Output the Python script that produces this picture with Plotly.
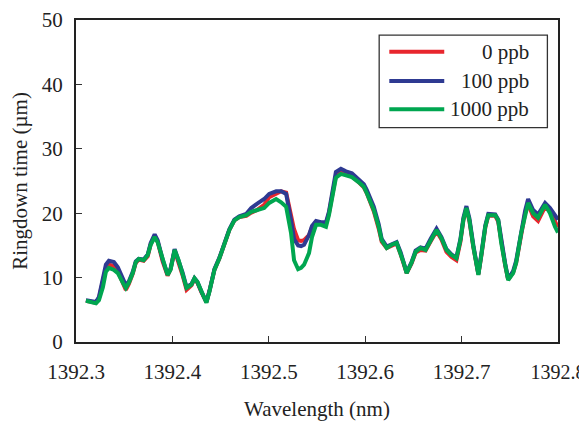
import plotly.graph_objects as go

wavelength = [1392.3103, 1392.3155, 1392.3207, 1392.3238, 1392.3279, 1392.3310, 1392.3341, 1392.3393,
              1392.3434, 1392.3486, 1392.3517, 1392.3548, 1392.3589, 1392.3620, 1392.3651, 1392.3702,
              1392.3744, 1392.3775, 1392.3816, 1392.3847, 1392.3899, 1392.3950, 1392.3981, 1392.4023,
              1392.4064, 1392.4105, 1392.4147, 1392.4198, 1392.4229, 1392.4260, 1392.4302, 1392.4353,
              1392.4384, 1392.4436, 1392.4488, 1392.4539, 1392.4591, 1392.4643, 1392.4694, 1392.4767,
              1392.4818, 1392.4880, 1392.4952, 1392.5004, 1392.5076, 1392.5128, 1392.5180, 1392.5231,
              1392.5262, 1392.5304, 1392.5335, 1392.5366, 1392.5417, 1392.5448, 1392.5490, 1392.5541,
              1392.5593, 1392.5624, 1392.5655, 1392.5696, 1392.5748, 1392.5800, 1392.5862, 1392.5934,
              1392.5986, 1392.6017, 1392.6089, 1392.6140, 1392.6171, 1392.6223, 1392.6275, 1392.6326,
              1392.6368, 1392.6399, 1392.6430, 1392.6481, 1392.6523, 1392.6574, 1392.6626, 1392.6678,
              1392.6740, 1392.6791, 1392.6843, 1392.6895, 1392.6946, 1392.6988, 1392.7019, 1392.7050,
              1392.7081, 1392.7122, 1392.7174, 1392.7205, 1392.7246, 1392.7277, 1392.7349, 1392.7380,
              1392.7411, 1392.7452, 1392.7483, 1392.7535, 1392.7566, 1392.7618, 1392.7659, 1392.7690,
              1392.7742, 1392.7793, 1392.7866, 1392.7917, 1392.7969, 1392.8000]

ppb_0 = [6.4, 6.2, 6.1, 6.8, 9.2, 11.5, 12.0, 11.8, 11.0, 9.3, 8.1, 9.0, 10.6, 12.3, 12.8, 12.6,
         13.3, 15.2, 16.4, 15.6, 12.5, 10.3, 11.3, 14.2, 12.5, 10.4, 8.1, 8.8, 9.8, 9.2, 7.7, 6.2,
         7.9, 11.2, 13.0, 15.1, 17.4, 18.9, 19.4, 19.6, 20.1, 20.5, 21.3, 22.5, 23.0, 23.4, 23.2, 20.0,
         17.5, 15.8, 15.7, 15.8, 16.6, 17.8, 18.7, 18.4, 18.3, 20.0, 22.8, 25.8, 26.3, 26.0, 25.7, 24.8,
         24.0, 23.1, 20.3, 17.6, 15.6, 14.6, 15.0, 15.3, 13.6, 12.2, 10.7, 12.2, 13.9, 14.3, 14.2, 15.6,
         17.2, 15.9, 14.0, 13.2, 12.7, 15.6, 19.0, 20.7, 18.8, 14.7, 10.5, 13.4, 17.8, 19.6, 19.6, 18.7,
         15.3, 11.9, 9.7, 10.8, 12.3, 16.8, 20.0, 21.4, 19.5, 18.8, 21.0, 20.3, 18.5, 17.8]

ppb_100 = [6.5, 6.3, 6.2, 7.0, 9.5, 12.0, 12.6, 12.4, 11.6, 9.8, 8.8, 9.4, 10.9, 12.5, 12.9, 12.8,
           13.6, 15.4, 16.7, 15.8, 12.8, 10.5, 11.4, 14.4, 12.8, 10.8, 8.5, 9.0, 9.9, 9.3, 7.8, 6.2,
           7.9, 11.3, 13.1, 15.2, 17.5, 19.0, 19.5, 19.9, 20.8, 21.5, 22.2, 23.0, 23.4, 23.4, 23.0, 18.9,
           16.0, 15.0, 14.9, 15.1, 16.6, 18.0, 18.8, 18.6, 18.6, 20.2, 23.2, 26.4, 26.9, 26.5, 26.2, 25.3,
           24.5, 23.6, 21.0, 18.3, 16.0, 14.8, 15.2, 15.5, 13.9, 12.4, 10.8, 12.4, 14.2, 14.7, 14.5, 16.0,
           17.6, 16.3, 14.4, 13.6, 13.1, 16.0, 19.3, 21.1, 19.2, 15.0, 10.6, 13.7, 18.1, 19.9, 19.8, 19.0,
           15.6, 12.2, 9.8, 11.0, 12.6, 17.1, 20.4, 22.2, 20.5, 19.8, 21.6, 20.8, 19.5, 19.0]

ppb_1000 = [6.4, 6.2, 6.0, 6.5, 8.5, 10.9, 11.5, 11.2, 10.7, 9.2, 8.4, 9.2, 10.7, 12.4, 12.9, 12.7,
            13.5, 15.1, 16.3, 15.5, 12.7, 10.4, 11.2, 14.3, 12.7, 10.7, 8.4, 8.9, 9.9, 9.3, 7.8, 6.1,
            7.8, 11.2, 13.0, 15.1, 17.4, 18.9, 19.4, 19.7, 20.2, 20.5, 20.8, 21.6, 22.2, 21.7, 21.0, 16.9,
            12.7, 11.3, 11.5, 12.0, 13.8, 16.3, 18.2, 18.2, 17.9, 19.7, 22.5, 25.5, 26.1, 25.9, 25.6, 24.8,
            24.1, 23.1, 20.5, 17.9, 15.8, 14.6, 15.1, 15.4, 13.8, 12.3, 10.7, 12.3, 14.0, 14.6, 14.3, 15.8,
            17.4, 16.1, 14.3, 13.5, 13.0, 15.8, 19.0, 20.8, 18.9, 14.8, 10.4, 13.5, 17.9, 19.7, 19.7, 18.9,
            15.4, 12.0, 9.6, 10.7, 12.3, 16.9, 20.0, 21.6, 20.0, 19.3, 21.3, 20.0, 17.9, 17.0]

series_names = ["0 ppb", "100 ppb", "1000 ppb"]
series_colors = ["#e8262d", "#2e3a92", "#00a650"]
x_ticks = [1392.3, 1392.4, 1392.5, 1392.6, 1392.7, 1392.8]
x_tick_labels = ["1392.3", "1392.4", "1392.5", "1392.6", "1392.7", "1392.8"]
y_ticks = [0, 10, 20, 30, 40, 50]

FONT = "Liberation Serif, Times New Roman, serif"

fig = go.Figure()
for name, ys, col in zip(series_names, [ppb_0, ppb_100, ppb_1000], series_colors):
    fig.add_trace(go.Scatter(x=wavelength, y=ys, mode="lines", name=name,
                             line=dict(color=col, width=4), showlegend=False))

# manual legend (box, sample lines, right-aligned labels)
fig.add_shape(type="rect", xref="paper", yref="paper", x0=0.629, x1=0.978, y0=0.6655, y1=0.953,
              line=dict(color="#333333", width=1.3), fillcolor="white", layer="above")
rows_y = [0.9016, 0.8106, 0.7227]
for name, col, yy in zip(series_names, series_colors, rows_y):
    fig.add_shape(type="line", xref="paper", yref="paper", x0=0.650, x1=0.764, y0=yy, y1=yy,
                  line=dict(color=col, width=4), layer="above")
    fig.add_annotation(xref="paper", yref="paper", x=0.9446, y=yy, text=name, showarrow=False,
                       xanchor="right", yanchor="middle", font=dict(family=FONT, size=21, color="#222222"))

# last tick label sits at the window edge: render it a touch smaller so it is not clipped
tick_text = x_tick_labels[:-1] + [f'<span style="font-size:20px">{x_tick_labels[-1]}</span>']

# the page body keeps its 8px default margin, so the figure is sized to the rest of the window
fig.update_layout(
    width=579, height=415,
    margin=dict(l=68, r=29, t=12, b=81),
    paper_bgcolor="white", plot_bgcolor="white",
    font=dict(family=FONT, size=21, color="#222222"),
)
fig.update_xaxes(range=[1392.3, 1392.8], tickvals=x_ticks, ticktext=tick_text,
                 ticks="inside", ticklen=6, tickwidth=1, tickcolor="#333333", automargin=False,
                 showline=True, linecolor="#222222", linewidth=2, mirror=True, showgrid=False,
                 zeroline=False, ticklabelstandoff=10, ticklabeloverflow="allow",
                 title=dict(text="Wavelength (nm)", standoff=18, font=dict(family=FONT, size=21)))
fig.update_yaxes(range=[0, 50], tickvals=y_ticks, ticks="inside", ticklen=6, tickwidth=1,
                 tickcolor="#333333", showline=True, linecolor="#222222", linewidth=2, mirror=True,
                 showgrid=False, zeroline=False, ticklabelstandoff=7, automargin=False,
                 title=dict(text="Ringdown time (µm)", standoff=12, font=dict(family=FONT, size=21)))

fig.write_html("out.html")
